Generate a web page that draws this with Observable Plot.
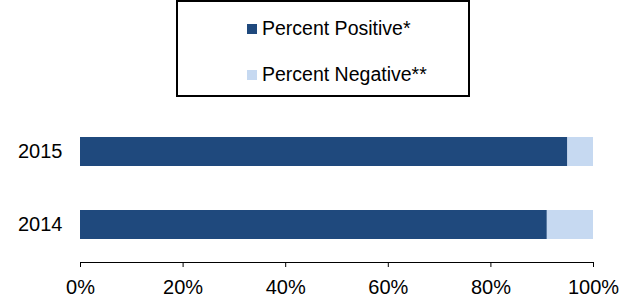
<!DOCTYPE html>
<html>
<head>
<meta charset="utf-8">
<script src="https://cdn.jsdelivr.net/npm/d3@7"></script>
<script src="https://cdn.jsdelivr.net/npm/@observablehq/plot@0.6"></script>
<style>
  body { margin: 0; background: #fff; font-family: Arial, "Liberation Sans", sans-serif; }
  #legend { position: relative; width: 631px; height: 100px; }
  #legend .box { position: absolute; left: 176px; top: 0px; width: 294px; height: 97px; border: 2px solid #000; box-sizing: border-box; }
  #legend .item { position: absolute; left: 247px; font-size: 19.5px; line-height: 22px; color: #000; white-space: nowrap; }
  #legend .sw { display: inline-block; width: 10px; height: 10px; margin-right: 5px; vertical-align: 1px; }
</style>
</head>
<body>
<div id="legend"><div class="box"></div></div>
<div id="chart"></div>
<script>
const years = ["2015", "2014"];
const categories = ["Percent Positive*", "Percent Negative**"];
const positive = [95, 91];
const negative = [5, 9];
const colors = ["#1F497D", "#C6D9F1"];
const xTicks = [0, 20, 40, 60, 80, 100];

const data = [];
years.forEach((y, i) => {
  data.push({year: y, category: categories[0], value: positive[i]});
  data.push({year: y, category: categories[1], value: negative[i]});
});

// legend
const legend = document.getElementById("legend");
categories.forEach((c, i) => {
  const d = document.createElement("div");
  d.className = "item";
  d.style.top = (17 + i * 46) + "px";
  d.innerHTML = `<span class="sw" style="background:${colors[i]}"></span>${c}`;
  legend.appendChild(d);
});

const chart = Plot.plot({
  width: 631,
  height: 198,
  marginLeft: 80,
  marginRight: 38,
  marginTop: 14,
  marginBottom: 36,
  style: {fontFamily: "Arial, 'Liberation Sans', sans-serif", fontSize: "20px", color: "#000", background: "#fff"},
  x: {domain: [0, 100]},
  y: {domain: years, paddingInner: 0.6, paddingOuter: 0.31},
  color: {domain: categories, range: colors},
  marks: [
    Plot.barX(data, {y: "year", x: "value", fill: "category"}),
    Plot.frame({anchor: "bottom", stroke: "#000"}),
    Plot.axisX({ticks: xTicks, tickFormat: d => d + "%", tickSize: 5, tickPadding: 12, label: null, stroke: "#000"}),
    Plot.axisY({tickSize: 0, tickPadding: 18, label: null})
  ]
});
document.getElementById("chart").appendChild(chart);
</script>
</body>
</html>
